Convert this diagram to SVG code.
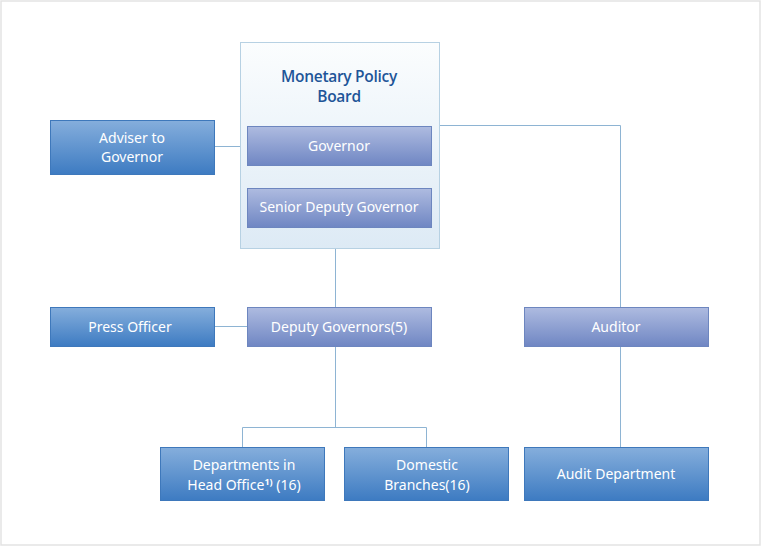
<svg xmlns="http://www.w3.org/2000/svg" width="762" height="547" viewBox="0 0 762 547">
<defs>
<linearGradient id="gBoard" x1="0" y1="0" x2="0" y2="1">
<stop offset="0" stop-color="#fbfdfe"/>
<stop offset="1" stop-color="#ddeaf5"/>
</linearGradient>
<linearGradient id="gPurple" x1="0" y1="0" x2="0" y2="1">
<stop offset="0" stop-color="#aebbe0"/>
<stop offset="1" stop-color="#6f86c3"/>
</linearGradient>
<linearGradient id="gBlue" x1="0" y1="0" x2="0" y2="1">
<stop offset="0" stop-color="#85aedc"/>
<stop offset="1" stop-color="#3d7bc2"/>
</linearGradient>
<style>
.board{fill:url(#gBoard);stroke:#b7d1e3;stroke-width:1}
.purple{fill:url(#gPurple);stroke:#6d86bf;stroke-width:1}
.blue{fill:url(#gBlue);stroke:#3e78bb;stroke-width:1}
.lbl{font-family:"Noto Sans","Open Sans","DejaVu Sans",sans-serif;font-size:14px;fill:#ffffff;text-anchor:middle}
.title{font-family:"Open Sans","Noto Sans","DejaVu Sans",sans-serif;font-size:15.5px;font-weight:600;fill:#1e5598;text-anchor:middle;letter-spacing:-0.3px}
.conn{fill:none;stroke:#8eb4d3;stroke-width:1}
</style>
</defs>
<rect x="1" y="1" width="759" height="544" fill="#ffffff" stroke="#e3e3e3" stroke-width="1.5"/>
<g id="connectors">
<path class="conn" d="M214.5,146.5H247"/>
<path class="conn" d="M336.5,165V188"/>
<path class="conn" d="M439,125.5H620.5V307"/>
<path class="conn" d="M335.5,248V307"/>
<path class="conn" d="M214.5,326.5H247"/>
<path class="conn" d="M335.5,346V427.5M242.5,447V427.5H426.5V447"/>
<path class="conn" d="M620.5,346V447"/>
</g>
<g id="board">
<rect class="board" x="240.5" y="42.5" width="199" height="206"/>
<text class="title" x="339" y="82">Monetary Policy</text>
<text class="title" x="339" y="102">Board</text>
</g>
<g id="governor">
<rect class="purple" x="247.5" y="126.5" width="184" height="39"/>
<text class="lbl" x="339" y="151">Governor</text>
</g>
<g id="senior-deputy">
<rect class="purple" x="247.5" y="188.5" width="184" height="39"/>
<text class="lbl" x="339" y="212">Senior Deputy Governor</text>
</g>
<g id="adviser">
<rect class="blue" x="50.5" y="120.5" width="164" height="54"/>
<text class="lbl" x="132" y="143">Adviser to</text>
<text class="lbl" x="132" y="162">Governor</text>
</g>
<g id="press">
<rect class="blue" x="50.5" y="307.5" width="164" height="39"/>
<text class="lbl" x="130" y="332">Press Officer</text>
</g>
<g id="deputy">
<rect class="purple" x="247.5" y="307.5" width="184" height="39"/>
<text class="lbl" x="339" y="332">Deputy Governors(5)</text>
</g>
<g id="auditor">
<rect class="purple" x="524.5" y="307.5" width="184" height="39"/>
<text class="lbl" x="616" y="332">Auditor</text>
</g>
<g id="departments">
<rect class="blue" x="160.5" y="447.5" width="164" height="53"/>
<text class="lbl" x="244" y="470">Departments in</text>
<text class="lbl" x="244" y="490">Head Office<tspan font-size="9" font-weight="bold" dy="-5">1)</tspan><tspan dy="5">  (16)</tspan></text>
</g>
<g id="branches">
<rect class="blue" x="344.5" y="447.5" width="164" height="53"/>
<text class="lbl" x="427" y="470">Domestic</text>
<text class="lbl" x="427" y="490">Branches(16)</text>
</g>
<g id="audit-dept">
<rect class="blue" x="524.5" y="447.5" width="184" height="53"/>
<text class="lbl" x="616" y="479">Audit Department</text>
</g>
</svg>
